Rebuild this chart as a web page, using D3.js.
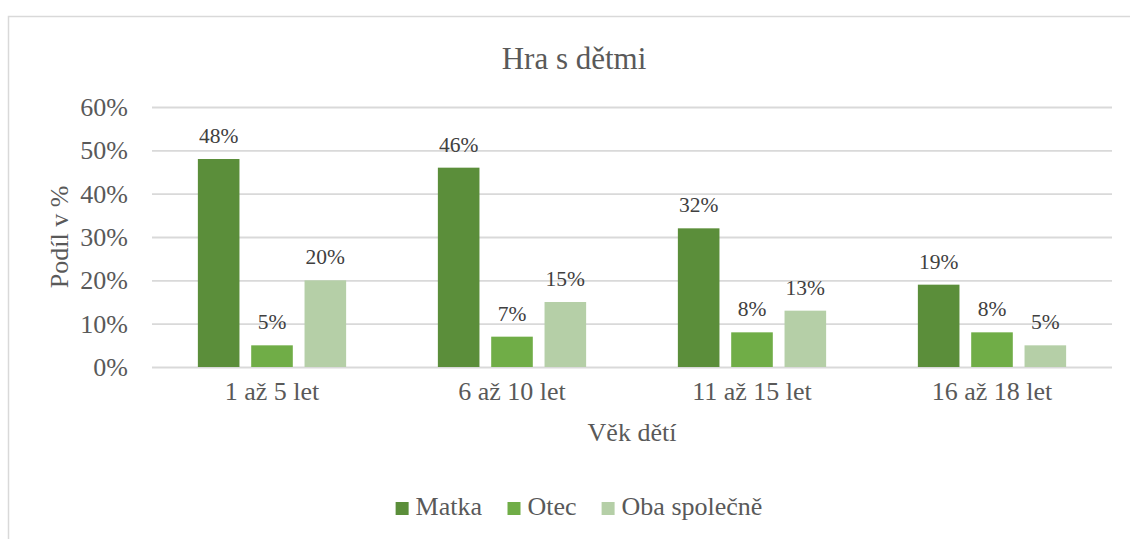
<!DOCTYPE html>
<html>
<head>
<meta charset="utf-8">
<script src="https://cdn.jsdelivr.net/npm/d3@7"></script>
<style>
  body { margin: 0; background: #fff; }
</style>
</head>
<body>
<div id="chart"></div>
<script>
// data
const categories = ["1 až 5 let", "6 až 10 let", "11 až 15 let", "16 až 18 let"];
const series = ["Matka", "Otec", "Oba společně"];
const matka = [48, 46, 32, 19];
const otec = [5, 7, 8, 8];
const oba = [20, 15, 13, 5];
const yTicks = [0, 10, 20, 30, 40, 50, 60];
const colors = ["#5b8e3a", "#70ad47", "#b5cfa7"];

const values = [matka, otec, oba];

// pick the first serif face that is really installed (Times-like look)
const pickFont = () => {
  const ctx = document.createElement("canvas").getContext("2d");
  const sample = "Hra s dětmi 0123456789% Wwmil";
  const widthOf = f => { ctx.font = `40px ${f}`; return ctx.measureText(sample).width; };
  const base = widthOf("monospace");
  const candidates = ["Liberation Serif", "Tinos", "Times New Roman", "Nimbus Roman", "FreeSerif", "Noto Serif", "DejaVu Serif"];
  const found = candidates.find(c => widthOf(`'${c}', monospace`) !== base);
  return found ? `'${found}', serif` : "serif";
};
const font = pickFont();

const width = 1130;
const height = 539;
const margin = { top: 107, right: 18, bottom: 172, left: 152 };

const svg = d3.select("#chart")
  .append("svg")
  .attr("width", width)
  .attr("height", height)
  .attr("font-family", font);

// frame (chart area, cropped on the right and bottom)
svg.append("path")
  .attr("d", `M8.5,${height} V16.5 H${width}`)
  .attr("fill", "none")
  .attr("stroke", "#d9d9d9")
  .attr("stroke-width", 1.5);

const x0 = d3.scaleBand()
  .domain(categories)
  .range([margin.left, width - margin.right])
  .padding(0);

const x1 = d3.scaleBand()
  .domain(series)
  .range([0, x0.bandwidth()])
  .paddingInner(0.22)
  .paddingOuter(0.86);

const y = d3.scaleLinear()
  .domain([0, 60])
  .range([height - margin.bottom, margin.top]);

// gridlines + y labels
const yAxis = svg.append("g")
  .attr("transform", `translate(${margin.left},0)`)
  .call(d3.axisLeft(y)
    .tickValues(yTicks)
    .tickSize(-(width - margin.left - margin.right))
    .tickPadding(24)
    .tickFormat(d => d + "%"))
  .attr("font-family", null);
yAxis.select(".domain").remove();
yAxis.selectAll("line").attr("stroke", "#d9d9d9").attr("stroke-width", 1.8);
yAxis.selectAll("text")
  .attr("fill", "#595959")
  .attr("font-size", 26)
  .attr("dy", "0.33em");

// bars
const groups = svg.append("g")
  .selectAll("g")
  .data(categories)
  .join("g")
  .attr("transform", d => `translate(${x0(d)},0)`);

groups.selectAll("rect")
  .data((d, i) => series.map((s, j) => ({ s, j, v: values[j][i] })))
  .join("rect")
  .attr("x", d => x1(d.s))
  .attr("y", d => y(d.v))
  .attr("width", x1.bandwidth())
  .attr("height", d => y(0) - y(d.v))
  .attr("fill", d => colors[d.j]);

groups.selectAll("text")
  .data((d, i) => series.map((s, j) => ({ s, j, v: values[j][i] })))
  .join("text")
  .attr("x", d => x1(d.s) + x1.bandwidth() / 2)
  .attr("y", d => y(d.v) - 16)
  .attr("text-anchor", "middle")
  .attr("font-size", 21.5)
  .attr("fill", "#404040")
  .text(d => d.v + "%");

// x axis labels
const xAxis = svg.append("g")
  .attr("transform", `translate(0,${y(0)})`)
  .call(d3.axisBottom(x0).tickSize(0).tickPadding(0))
  .attr("font-family", null);
xAxis.select(".domain").remove();
xAxis.selectAll("text")
  .attr("fill", "#595959")
  .attr("font-size", 26)
  .attr("dy", 0)
  .attr("y", 33);

// titles
svg.append("text")
  .attr("x", 574)
  .attr("y", 69)
  .attr("text-anchor", "middle")
  .attr("font-size", 31)
  .attr("fill", "#595959")
  .text("Hra s dětmi");

svg.append("text")
  .attr("x", (margin.left + width - margin.right) / 2)
  .attr("y", 441)
  .attr("text-anchor", "middle")
  .attr("font-size", 26)
  .attr("fill", "#595959")
  .text("Věk dětí");

svg.append("text")
  .attr("transform", `translate(68,${(y(0) + y(60)) / 2}) rotate(-90)`)
  .attr("text-anchor", "middle")
  .attr("font-size", 26)
  .attr("fill", "#595959")
  .text("Podíl v %");

// legend
const legend = svg.append("g");
const items = legend.selectAll("g")
  .data(series)
  .join("g");
items.append("rect")
  .attr("width", 13)
  .attr("height", 13)
  .attr("y", 502)
  .attr("fill", (d, i) => colors[i]);
items.append("text")
  .attr("x", 20)
  .attr("y", 515)
  .attr("font-size", 26)
  .attr("fill", "#595959")
  .text(d => d);

let offset = 0;
const pos = [];
items.each(function () {
  pos.push(offset);
  offset += this.getBBox().width + 25;
});
const total = offset - 25;
const startX = 579 - total / 2;
items.attr("transform", (d, i) => `translate(${startX + pos[i]},0)`);
</script>
</body>
</html>
